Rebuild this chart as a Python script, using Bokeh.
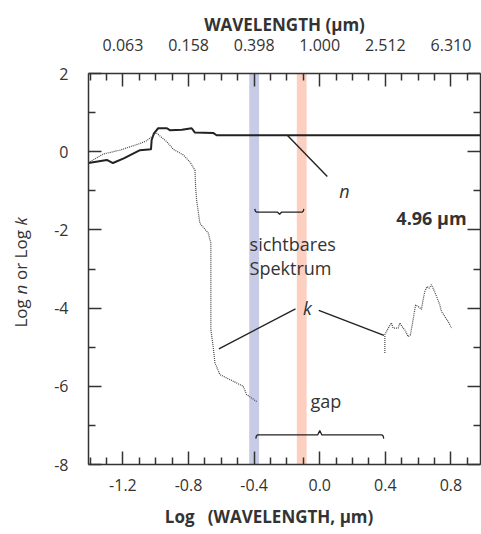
import numpy as np
from bokeh.plotting import figure
from bokeh.layouts import row
from bokeh.models import LinearAxis, FixedTicker, Range1d, Label
from bokeh.embed import file_html
from bokeh.resources import INLINE

# ---------------- data ----------------
# refractive index n (log10) vs log10 wavelength (um)
n_logwl = [-1.41, -1.298, -1.261, -1.195, -1.096, -1.029, -1.025, -1.011, -0.985,
           -0.932, -0.914, -0.84, -0.781, -0.761, -0.650, -0.629, 0.98]
n_logval = [-0.29, -0.21, -0.29, -0.17, 0.04, 0.06, 0.30, 0.47, 0.60,
            0.60, 0.55, 0.56, 0.60, 0.49, 0.48, 0.42, 0.42]

# absorption index k (log10), short-wavelength part
k1_logwl = [-1.401, -1.320, -1.218, -1.096, -1.056, -1.025, -0.999, -0.934, -0.893,
            -0.833, -0.792, -0.761, -0.757, -0.751, -0.731, -0.680, -0.664, -0.664,
            -0.650, -0.639, -0.609, -0.528, -0.467, -0.446, -0.385]
k1_logval = [-0.26, -0.06, 0.04, 0.21, 0.28, 0.38, 0.49, 0.26, 0.06,
             -0.08, -0.26, -0.47, -0.89, -1.23, -1.83, -2.08, -2.34, -4.55,
             -4.98, -5.40, -5.70, -5.87, -6.00, -6.21, -6.39]

# absorption index k (log10), infrared part
k2_logwl = [0.397, 0.397, 0.407, 0.427, 0.437, 0.447, 0.478, 0.488, 0.508, 0.518,
            0.539, 0.553, 0.569, 0.584, 0.600, 0.620, 0.630, 0.640, 0.654, 0.667,
            0.681, 0.695, 0.712, 0.732, 0.742, 0.756, 0.782, 0.803]
k2_logval = [-5.15, -4.68, -4.60, -4.44, -4.38, -4.51, -4.51, -4.38, -4.51, -4.55,
             -4.73, -4.68, -4.30, -3.92, -3.96, -4.03, -3.79, -3.58, -3.45, -3.49,
             -3.40, -3.53, -3.70, -3.92, -4.09, -4.17, -4.34, -4.51]

# visible spectrum markers (log10 wavelength)
band_centers = [-0.40, -0.11]
band_width = 0.06
band_colors = ["#c7cbe6", "#fccfc0"]

# ticks
x_ticks = [-1.2, -0.8, -0.4, 0.0, 0.4, 0.8]
x_labels = ["-1.2", "-0.8", "-0.4", "0.0", "0.4", "0.8"]
top_labels = ["0.063", "0.158", "0.398", "1.000", "2.512", "6.310"]
x_minor = [-1.4, -1.3, -1.1, -1.0, -0.9, -0.7, -0.6, -0.5, -0.3, -0.2, -0.1,
           0.1, 0.2, 0.3, 0.5, 0.6, 0.7, 0.9]
y_ticks = [-8, -6, -4, -2, 0, 2]
y_labels = ["-8", "-6", "-4", "-2", "0", "2"]
y_minor = [-7, -5, -3, -1, 1]

# leader lines (x0, y0, x1, y1)
lead_x0 = [-0.198, -0.615, -0.006]
lead_y0 = [0.42, -5.04, -4.06]
lead_x1 = [0.046, -0.148, 0.391]
lead_y1 = [-0.634, -4.02, -4.70]

# braces: start, end, line level, end level, tip position, tip level
brace_x0 = [-0.396, -0.39]
brace_x1 = [-0.097, 0.39]
brace_y = [-1.547, -7.24]
brace_yend = [-1.46, -7.34]
brace_xtip = [-0.245, 0.0]
brace_ytip = [-1.60, -7.13]

TXT = "#333333"
LN = "#222222"
FONT = "Open Sans"
NB = "\u00a0"
H = 534
LW = 32
TOP, BOT = 73, 70

# ---------------- left strip with the rotated y-axis title ----------------
# (its frame is aligned with the main frame, so map page pixels TOP..H-BOT)
lf = figure(width=LW, height=H, x_range=Range1d(0, LW), y_range=Range1d(H - BOT, TOP),
            output_backend="svg", toolbar_location=None,
            x_axis_location=None, y_axis_location=None,
            min_border_left=0, min_border_right=0,
            min_border_top=TOP, min_border_bottom=BOT)
lf.grid.grid_line_color = None
lf.outline_line_color = None
for txt, pos, style in [("Log" + NB, 327, "normal"), ("n", 294.1, "italic"),
                        (NB + "or Log" + NB, 283.9, "normal"), ("k", 224.9, "italic")]:
    lf.add_layout(Label(x=20, y=pos, text=txt, text_font=FONT, text_font_size="17px",
                        text_font_style=style, text_color=TXT, text_align="left",
                        text_baseline="middle", angle=np.pi / 2))

# ---------------- main plot ----------------
p = figure(width=481 - LW, height=H,
           x_range=Range1d(-1.41, 0.98), y_range=Range1d(-8, 2),
           output_backend="svg", toolbar_location=None,
           x_axis_location=None, y_axis_location=None,
           min_border_left=88 - LW, min_border_right=1,
           min_border_top=TOP, min_border_bottom=BOT)
p.grid.grid_line_color = None
p.outline_line_color = None
p.background_fill_color = "white"
p.border_fill_color = "white"


def style_axis(ax, standoff, label_size="16px"):
    ax.major_tick_in = 13
    ax.major_tick_out = 0
    ax.minor_tick_in = 7
    ax.minor_tick_out = 0
    ax.axis_line_color = "#333333"
    ax.axis_line_width = 1.5
    ax.major_tick_line_color = "#333333"
    ax.major_tick_line_width = 1.5
    ax.minor_tick_line_color = "#333333"
    ax.minor_tick_line_width = 1.5
    ax.major_label_text_font = FONT
    ax.major_label_text_font_size = label_size
    ax.major_label_text_color = TXT
    ax.major_label_standoff = standoff
    ax.axis_label_text_font = FONT
    ax.axis_label_text_font_size = "17px"
    ax.axis_label_text_font_style = "bold"
    ax.axis_label_text_color = TXT


bottom = LinearAxis(ticker=FixedTicker(ticks=x_ticks, minor_ticks=x_minor))
bottom.major_label_overrides = {t: s for t, s in zip(x_ticks, x_labels)}
style_axis(bottom, 14)
bottom.axis_label = "Log" + NB * 3 + "(WAVELENGTH, µm)" + NB * 7
bottom.axis_label_standoff = 11
p.add_layout(bottom, "below")

top = LinearAxis(ticker=FixedTicker(ticks=x_ticks, minor_ticks=x_minor))
top.major_label_overrides = {t: s for t, s in zip(x_ticks, top_labels)}
style_axis(top, 23)
top.axis_label = "WAVELENGTH (µm)"
top.axis_label_standoff = 0
p.add_layout(top, "above")

left = LinearAxis(ticker=FixedTicker(ticks=y_ticks, minor_ticks=y_minor))
left.major_label_overrides = {t: s for t, s in zip(y_ticks, y_labels)}
style_axis(left, 20)
p.add_layout(left, "left")

right = LinearAxis(ticker=FixedTicker(ticks=y_ticks, minor_ticks=y_minor))
style_axis(right, 0, "0px")
right.major_label_overrides = {t: "" for t in y_ticks}
p.add_layout(right, "right")

# visible-spectrum bands
p.vbar(x=band_centers, width=band_width, bottom=-8, top=2,
       fill_color=band_colors, line_color=None)

# curves
p.line(n_logwl, n_logval, line_color=LN, line_width=2)
p.line(k1_logwl, k1_logval, line_color="#444444", line_width=1.2, line_dash="1 1")
p.line(k2_logwl, k2_logval, line_color="#444444", line_width=1.2, line_dash="1 1")

# leader lines
p.segment(x0=lead_x0, y0=lead_y0, x1=lead_x1, y1=lead_y1, line_color=LN, line_width=1.4)

# braces
bxs, bys = [], []
for x0, x1, yl, ye, xt, yt in zip(brace_x0, brace_x1, brace_y, brace_yend, brace_xtip, brace_ytip):
    c = 0.012
    bxs.append([x0, x0 + c * 0.3, x0 + c, xt - c, xt, xt + c, x1 - c, x1 - c * 0.3, x1])
    bys.append([ye, yl + (ye - yl) * 0.3, yl, yl, yt, yl, yl, yl + (ye - yl) * 0.3, ye])
p.multi_line(bxs, bys, line_color=LN, line_width=1.3)


def lab(x, y, text, size="18px", style="normal", align="center"):
    p.add_layout(Label(x=x, y=y, text=text, text_font=FONT, text_font_size=size,
                       text_font_style=style, text_color=TXT, text_align=align,
                       text_baseline="alphabetic"))


# annotations
lab(0.151, -1.01, "n", "18px", "italic")
lab(0.681, -1.708, "4.96 µm", "18px", "bold")
lab(-0.428, -2.373, "sichtbares", "18px", "normal", "left")
lab(-0.428, -2.987, "Spektrum", "18px", "normal", "left")
lab(-0.076, -3.99, "k", "18px", "italic")
lab(0.037, -6.376, "gap", "18px")

layout = row(lf, p, spacing=0)
open("out.html", "w").write(file_html(layout, INLINE))
